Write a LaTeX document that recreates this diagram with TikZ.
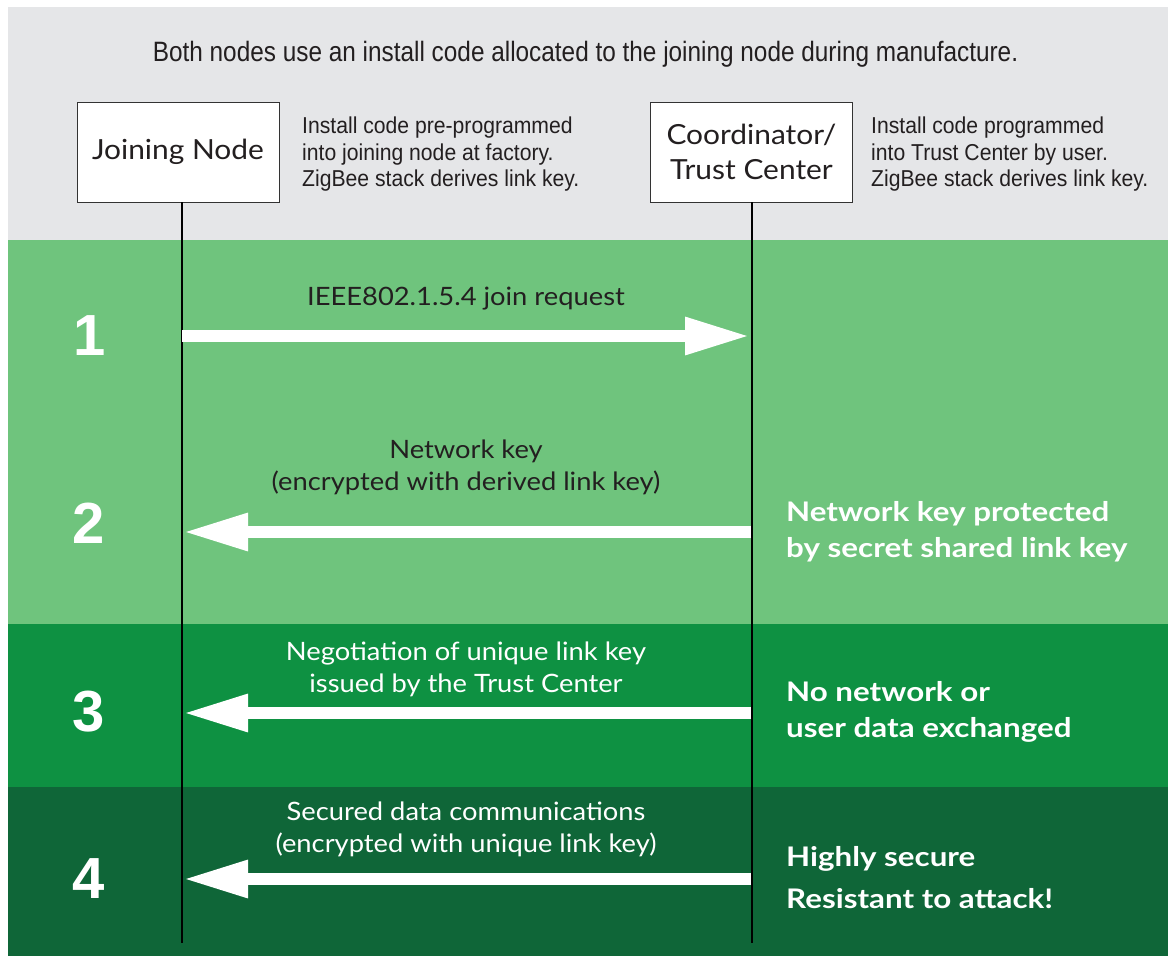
\documentclass[tikz,border=0pt]{standalone}
\usepackage{fontspec}
\setmainfont{Lato}
\newfontfamily\cond[FakeStretch=0.87]{Liberation Sans}
\newfontfamily\condn[FakeStretch=0.92]{Liberation Sans}
\newfontfamily\numf{Liberation Sans}
\newfontfamily\avf[FakeStretch=1.08]{Lato}
\newfontfamily\avb[FakeStretch=1.16]{Lato}
\usetikzlibrary{arrows.meta}
\definecolor{bggray}{HTML}{E5E6E8}
\definecolor{glight}{HTML}{6FC47D}
\definecolor{gmid}{HTML}{0E9142}
\definecolor{gdark}{HTML}{0F6638}
\definecolor{txtdark}{HTML}{231F20}
\tikzset{
  actor/.style={draw=black!80, line width=1pt, fill=white, minimum width=202pt, minimum height=100pt, inner sep=0pt, align=center, font=\avf\fontsize{27.7}{35}\selectfont, text=txtdark},
  note/.style={anchor=north west, align=left, inner sep=0pt, font=\condn\fontsize{23}{26.5}\selectfont, text=txtdark},
  lifeline/.style={line width=2pt, black},
  msg/.style={white, line width=12pt, -{Triangle[length=65pt,width=35pt]}},
  msglabel/.style={align=center, inner sep=0pt, font=\avf\fontsize{25.3}{32}\selectfont},
  stepnum/.style={text=white, inner sep=0pt, font=\numf\bfseries\fontsize{58}{58}\selectfont},
  remark/.style={anchor=west, align=left, inner sep=0pt, text=white, font=\avb\bfseries\fontsize{27}{36}\selectfont}
}
\begin{document}
\begin{tikzpicture}[x=1pt,y=-1pt]
\useasboundingbox (0,0) rectangle (1168,956);
\fill[white] (0,0) rectangle (1168,956);
% bands
\fill[bggray] (8,7) rectangle (1168,240);
\fill[glight] (8,240) rectangle (1168,624);
\fill[gmid] (8,624) rectangle (1168,787);
\fill[gdark] (8,787) rectangle (1168,956);
% title
\node[inner sep=0pt, font=\cond\fontsize{28}{34}\selectfont, text=txtdark, anchor=base] (title) at (585.5,61) {Both nodes use an install code allocated to the joining node during manufacture.};
% actors
\node[actor] (jn) at (178,152) {\raisebox{-2pt}{Joining Node}};
\node[actor] (tc) at (751.5,152) {Coordinator/\\Trust Center};
\node[note] (jnnote) at (302,117) {Install code pre-programmed\\into joining node at factory.\\ZigBee stack derives link key.};
\node[note] (tcnote) at (871,117) {Install code programmed\\into Trust Center by user.\\ZigBee stack derives link key.};
% lifeline coordinates
\coordinate (jtop) at (182,202);
\coordinate (jbot) at (182,943);
\coordinate (ttop) at (752,202);
\coordinate (tbot) at (752,943);
\draw[lifeline] (jtop) -- (jbot);
\draw[lifeline] (ttop) -- (tbot);
\coordinate (j1) at (182,336); \coordinate (t1) at (750,336);
\coordinate (j2) at (183,532); \coordinate (t2) at (751,532);
\coordinate (j3) at (183,713); \coordinate (t3) at (751,713);
\coordinate (j4) at (183,879); \coordinate (t4) at (751,879);
% messages
\draw[msg] (j1) -- (t1);
\draw[msg] (t2) -- (j2);
\draw[msg] (t3) -- (j3);
\draw[msg] (t4) -- (j4);
% labels (base = baseline of last line)
\node[msglabel, text=txtdark, anchor=base] (l1) at (466,305) {IEEE802.1.5.4 join request};
\node[msglabel, text=txtdark, anchor=base] (l2) at (466,490) {Network key\\(encrypted with derived link key)};
\node[msglabel, text=white, anchor=base] (l3) at (466,692) {Negotiation of unique link key\\issued by the Trust Center};
\node[msglabel, text=white, anchor=base] (l4) at (466,852) {Secured data communications\\(encrypted with unique link key)};
% step numbers
\node[stepnum] (n1) at (90,336) {1};
\node[stepnum] (n2) at (89,523) {2};
\node[stepnum] (n3) at (89,712) {3};
\node[stepnum] (n4) at (89,879) {4};
% remarks
\node[remark] (r2) at (786,532) {Network key protected\\by secret shared link key};
\node[remark] (r3) at (786,712) {No network or\\user data exchanged};
\node[remark, font=\avb\bfseries\fontsize{27}{42}\selectfont] (r4) at (786,878) {Highly secure\\Resistant to attack!};
\end{tikzpicture}
\end{document}
